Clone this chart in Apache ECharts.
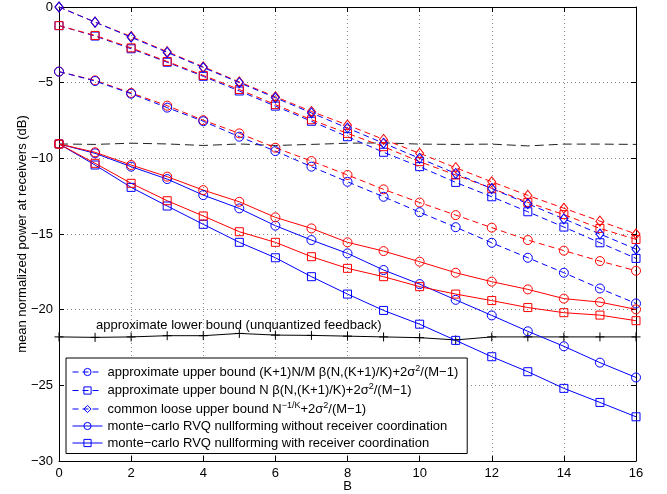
<!DOCTYPE html>
<html>
<head>
<meta charset="utf-8">
<script src="https://cdn.jsdelivr.net/npm/echarts@6/dist/echarts.min.js"></script>
<style>
  html, body { margin: 0; padding: 0; background: #fff; }
  #chart { width: 667px; height: 494px; }
</style>
</head>
<body>
<div id="chart"></div>
<script>
// Feedback bits B on the horizontal axis
const bits = [0, 1, 2, 3, 4, 5, 6, 7, 8, 9, 10, 11, 12, 13, 14, 15, 16];
const xTicks = [0, 2, 4, 6, 8, 10, 12, 14, 16];
const yTicks = [0, -5, -10, -15, -20, -25, -30];

// Approximate upper bound (K+1)N/M beta(...) + noise term
const ubRatioBlue = [-4.27, -4.89, -5.73, -6.65, -7.55, -8.57, -9.52, -10.55, -11.55, -12.54, -13.56, -14.55, -15.58, -16.57, -17.56, -18.6, -19.59];
const ubRatioRed  = [-4.27, -4.85, -5.68, -6.52, -7.48, -8.35, -9.3, -10.18, -11.1, -12.05, -12.92, -13.75, -14.58, -15.4, -16.1, -16.79, -17.43];
// Approximate upper bound N beta(...) + noise term
const ubNBlue = [-1.23, -1.92, -2.76, -3.65, -4.58, -5.55, -6.55, -7.55, -8.57, -9.6, -10.55, -11.59, -12.54, -13.53, -14.54, -15.58, -16.61];
const ubNRed  = [-1.23, -1.88, -2.7, -3.6, -4.52, -5.45, -6.45, -7.45, -8.35, -9.23, -10.22, -11.1, -11.98, -12.91, -13.72, -14.63, -15.36];
// Common loose upper bound N^(-1/K) + noise term
const looseBlue = [0, -1, -2, -3, -4, -5, -6, -7, -8, -9, -10, -11, -12, -13, -14, -15, -16];
const looseRed  = [0, -1, -1.95, -2.95, -3.95, -4.95, -5.93, -6.9, -7.8, -8.75, -9.67, -10.62, -11.55, -12.45, -13.3, -14.15, -15.0];
// Monte-carlo RVQ nullforming without receiver coordination
const mcNoCoordBlue = [-9.05, -9.67, -10.55, -11.37, -12.43, -13.31, -14.45, -15.4, -16.28, -17.38, -18.31, -19.35, -20.38, -21.43, -22.42, -23.5, -24.48];
const mcNoCoordRed  = [-9.05, -9.6, -10.44, -11.21, -12.1, -12.87, -13.9, -14.63, -15.55, -16.13, -16.83, -17.56, -18.15, -18.66, -19.27, -19.5, -19.98];
// Monte-carlo RVQ nullforming with receiver coordination
const mcCoordBlue = [-9.05, -10.44, -11.92, -13.15, -14.36, -15.55, -16.57, -17.82, -18.97, -20.05, -20.96, -22.03, -23.11, -24.1, -25.2, -26.13, -27.08];
const mcCoordRed  = [-9.05, -10.33, -11.65, -12.8, -13.81, -14.85, -15.55, -16.5, -17.27, -17.82, -18.48, -18.97, -19.4, -19.86, -20.2, -20.36, -20.73];
// Approximate lower bound (unquantized feedback) and the reference level
const lowerBound = [-21.8, -21.83, -21.8, -21.72, -21.72, -21.57, -21.68, -21.7, -21.75, -21.8, -21.85, -22.0, -21.8, -21.8, -21.8, -21.8, -21.8];
const refLevel = [-9.05, -9.08, -9.0, -9.05, -9.15, -9.05, -9.15, -9.08, -9.0, -8.98, -9.06, -9.08, -9.06, -9.18, -9.06, -9.06, -9.08];

const legendNames = [
  'approximate upper bound (K+1)N/M β(N,(K+1)/K)+2σ2/(M−1)',
  'approximate upper bound N β(N,(K+1)/K)+2σ2/(M−1)',
  'common loose upper bound N−1/K+2σ2/(M−1)',
  'monte−carlo RVQ nullforming without receiver coordination',
  'monte−carlo RVQ nullforming with receiver coordination'
];
const legendRich = [
  'approximate upper bound (K+1)N/M β(N,(K+1)/K)+2σ{s|2}/(M−1)',
  'approximate upper bound N β(N,(K+1)/K)+2σ{s|2}/(M−1)',
  'common loose upper bound N{s|−1/K}+2σ{s|2}/(M−1)',
  'monte−carlo RVQ nullforming without receiver coordination',
  'monte−carlo RVQ nullforming with receiver coordination'
];

const FONT = 'Liberation Sans, Arial, Helvetica, sans-serif';
const FS = 13;
const BLUE = '#0000ff';
const RED = '#ff0000';
const DASH = [6, 4];

const pts = vals => bits.map((b, i) => [b, vals[i]]);

// Open markers: transparent fill, thin outline in the series colour
function curve(name, vals, color, symbol, size, dashed) {
  return {
    name: name,
    type: 'line',
    data: pts(vals),
    symbol: symbol,
    symbolSize: size,
    showSymbol: true,
    animation: false,
    lineStyle: { color: color, width: 1, type: dashed ? DASH : 'solid' },
    itemStyle: { color: 'rgba(0,0,0,0)', borderColor: color, borderWidth: 1 },
    emphasis: { disabled: true },
    z: 3
  };
}

const series = [
  curve('ratio bound (red)', ubRatioRed, RED, 'circle', 9, true),
  curve(legendNames[0], ubRatioBlue, BLUE, 'circle', 9, true),
  curve(legendNames[1], ubNBlue, BLUE, 'rect', 8, true),
  curve('N bound (red)', ubNRed, RED, 'rect', 8, true),
  curve('loose bound (red)', looseRed, RED, 'diamond', [8, 10], true),
  curve(legendNames[2], looseBlue, BLUE, 'diamond', [8, 10], true),
  curve(legendNames[3], mcNoCoordBlue, BLUE, 'circle', 9, false),
  curve(legendNames[4], mcCoordBlue, BLUE, 'rect', 8, false),
  curve('without coordination (red)', mcNoCoordRed, RED, 'circle', 9, false),
  curve('with coordination (red)', mcCoordRed, RED, 'rect', 8, false),
  {
    name: 'lower bound',
    type: 'line',
    data: pts(lowerBound),
    symbol: 'path://M5,0L5,10M0,5L10,5',
    symbolSize: 9,
    animation: false,
    lineStyle: { color: '#000', width: 1 },
    itemStyle: { color: 'rgba(0,0,0,0)', borderColor: '#000', borderWidth: 1 },
    emphasis: { disabled: true },
    z: 2
  },
  {
    name: 'reference level',
    type: 'line',
    data: pts(refLevel),
    showSymbol: false,
    symbol: 'none',
    animation: false,
    lineStyle: { color: '#222', width: 1, type: [9, 5] },
    emphasis: { disabled: true },
    z: 2
  }
];

const minus = v => String(v).replace('-', '\u2212');

const axisCommon = {
  type: 'value',
  axisLine: { show: true, onZero: false, lineStyle: { color: '#000', width: 1 } },
  axisTick: { show: true, inside: true, length: 5, lineStyle: { color: '#000' } }
};

const option = {
  backgroundColor: '#fff',
  animation: false,
  textStyle: { fontFamily: FONT },
  grid: { left: 59, right: 31, top: 7, bottom: 33, containLabel: false, outerBoundsMode: 'none' },
  xAxis: [
    Object.assign({}, axisCommon, {
      position: 'bottom', min: xTicks[0], max: xTicks[xTicks.length - 1], interval: 2,
      name: 'B', nameLocation: 'middle', nameGap: 19, nameMoveOverlap: false,
      nameTextStyle: { fontSize: FS, color: '#000', fontFamily: FONT },
      axisLabel: { fontSize: FS, color: '#000', margin: 6, fontFamily: FONT },
      splitLine: { show: true, lineStyle: { color: '#888', width: 1, type: [1, 3] } }
    }),
    Object.assign({}, axisCommon, {
      position: 'top', min: xTicks[0], max: xTicks[xTicks.length - 1], interval: 2,
      axisLabel: { show: false }, splitLine: { show: false }
    })
  ],
  yAxis: [
    Object.assign({}, axisCommon, {
      position: 'left', min: yTicks[yTicks.length - 1], max: yTicks[0], interval: 5,
      name: 'mean normalized power at receivers (dB)', nameLocation: 'middle', nameGap: 30,
      nameMoveOverlap: false,
      nameTextStyle: { fontSize: FS, color: '#000', fontFamily: FONT },
      axisLabel: { fontSize: FS, color: '#000', margin: 6, fontFamily: FONT, formatter: minus },
      splitLine: { show: true, lineStyle: { color: '#888', width: 1, type: [1, 3] } }
    }),
    Object.assign({}, axisCommon, {
      position: 'right', min: yTicks[yTicks.length - 1], max: yTicks[0], interval: 5,
      axisLabel: { show: false }, splitLine: { show: false }
    })
  ],
  legend: {
    data: legendNames,
    orient: 'vertical',
    left: 66,
    top: 358,
    padding: [6, 9, 4, 6],
    itemGap: 4,
    itemWidth: 30,
    itemHeight: 9,
    selectedMode: false,
    backgroundColor: '#fff',
    borderColor: '#000',
    borderWidth: 1,
    borderRadius: 0,
    z: 10,
    lineStyle: { width: 1 },
    itemStyle: { borderWidth: 1 },
    formatter: name => legendRich[legendNames.indexOf(name)],
    textStyle: {
      fontSize: FS, color: '#000', fontFamily: FONT,
      rich: {
        s: { fontSize: 9, color: '#000', fontFamily: FONT, verticalAlign: 'bottom', padding: [0, 0, 7, 0] }
      }
    }
  },
  graphic: [
    {
      type: 'text',
      left: 96,
      top: 319,
      z: 5,
      style: { text: 'approximate lower bound (unquantized feedback)', fontSize: FS, fill: '#000', fontFamily: FONT }
    }
  ],
  series: series
};

const chart = echarts.init(document.getElementById('chart'), null, { renderer: 'canvas' });
chart.setOption(option);
</script>
</body>
</html>
